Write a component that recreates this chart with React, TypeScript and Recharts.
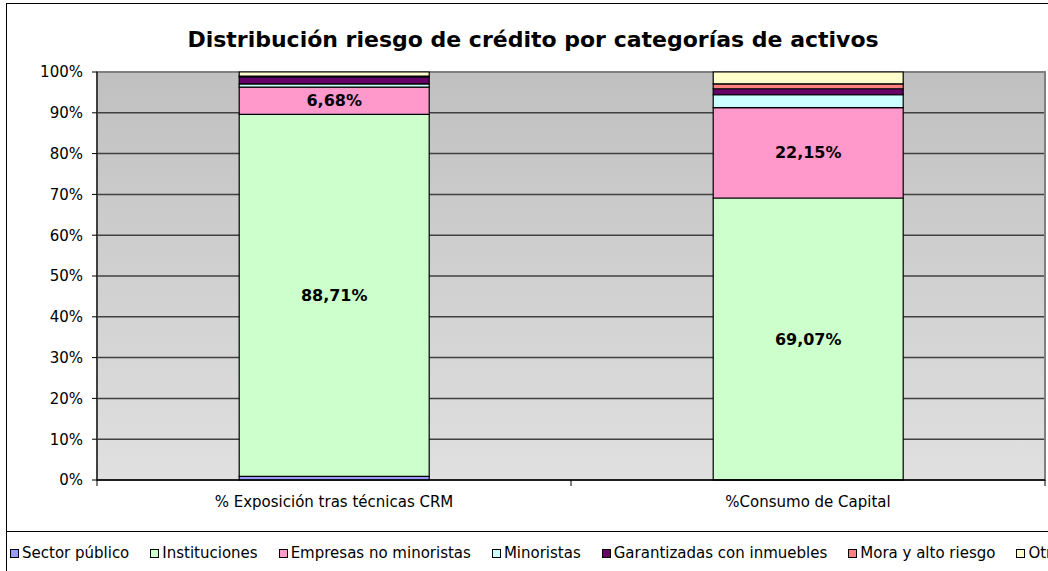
import {
  BarChart,
  Bar,
  XAxis,
  YAxis,
  CartesianGrid,
  LabelList,
  ReferenceArea
} from 'recharts';

const categories = ['% Exposición tras técnicas CRM', '%Consumo de Capital'];
const sectorPublico = [0.9, 0.05];
const instituciones = [88.71, 69.07];
const empresas = [6.68, 22.15];
const minoristas = [0.8, 3.16];
const garantizadas = [1.7, 1.47];
const mora = [0.2, 1.2];
const otras = [1.01, 2.9];
const yTicks = [0, 10, 20, 30, 40, 50, 60, 70, 80, 90, 100];

const series = [
  { key: 'sectorPublico', name: 'Sector público', values: sectorPublico, color: '#9999ff', label: false },
  { key: 'instituciones', name: 'Instituciones', values: instituciones, color: '#ccffcc', label: true },
  { key: 'empresas', name: 'Empresas no minoristas', values: empresas, color: '#ff99cc', label: true },
  { key: 'minoristas', name: 'Minoristas', values: minoristas, color: '#ccffff', label: false },
  { key: 'garantizadas', name: 'Garantizadas con inmuebles', values: garantizadas, color: '#660066', label: false },
  { key: 'mora', name: 'Mora y alto riesgo', values: mora, color: '#ff8080', label: false },
  { key: 'otras', name: 'Otras', values: otras, color: '#ffffcc', label: false }
];

const data = categories.map((name, i) => {
  const row: Record<string, string | number> = { name };
  series.forEach((s) => {
    row[s.key] = s.values[i];
  });
  return row;
});

const font = '"DejaVu Sans", Verdana, sans-serif';
const fmtPct = (v: unknown) => `${Number(v).toFixed(2).replace('.', ',')}%`;

// category label plus the Excel-style tick marks on the band edges
const CategoryTick = (props: any) => {
  const { x, y, payload, index, visibleTicksCount } = props;
  const half = payload?.offset ?? 0;
  const axisY = y - 16;
  const last = index === visibleTicksCount - 1;
  return (
    <g>
      <line x1={x - half} x2={x - half} y1={axisY} y2={axisY + 6} stroke="#000" />
      {last && <line x1={x + half} x2={x + half} y1={axisY} y2={axisY + 6} stroke="#000" />}
      <text x={x} y={y} dy="0.71em" textAnchor="middle" fontSize={15} fill="#000" fontFamily={font}>
        {payload.value}
      </text>
    </g>
  );
};

export default function App() {
  return (
    <div style={{ position: 'absolute', left: 0, top: 0, width: 1048, height: 571, overflow: 'hidden', background: '#fff', fontFamily: font }}>
      <div style={{ position: 'absolute', left: 6, top: 3, width: 1200, height: 529, border: '1px solid #000', boxSizing: 'border-box' }} />
      <div style={{ position: 'absolute', left: 0, top: 27, width: 1066, textAlign: 'center', fontSize: 22, fontWeight: 'bold', color: '#000' }}>
        Distribución riesgo de crédito por categorías de activos
      </div>

      <div style={{ position: 'absolute', left: 0, top: 0 }}>
        <BarChart width={1100} height={531} data={data} margin={{ top: 72, right: 55, left: 37, bottom: 21 }} barCategoryGap="30%">
          <defs>
            <linearGradient id="plotBg" x1="0" y1="0" x2="0" y2="1">
              <stop offset="0%" stopColor="#c0c0c0" />
              <stop offset="100%" stopColor="#e0e0e0" />
            </linearGradient>
          </defs>
          <CartesianGrid vertical={false} stroke="#404040" strokeWidth={1.5} fill="url(#plotBg)" fillOpacity={1} />
          <ReferenceArea y1={0} y2={100} fill="none" stroke="#808080" strokeWidth={2} ifOverflow="visible" />
          <XAxis
            dataKey="name"
            axisLine={{ stroke: '#000', strokeWidth: 1.5 }}
            tickLine={false}
            tickSize={0}
            tickMargin={16}
            height={30}
            interval={0}
            tick={<CategoryTick />}
          />
          <YAxis
            domain={[0, 100]}
            ticks={yTicks}
            width={60}
            tickSize={5}
            tickMargin={9}
            stroke="#000"
            tickFormatter={(v) => `${v}%`}
            tick={{ fontSize: 15, fill: '#000', fontFamily: font }}
          />
          {series.map((s) => (
            <Bar key={s.key} dataKey={s.key} name={s.name} stackId="a" fill={s.color} stroke="#000" strokeWidth={1.2} isAnimationActive={false}>
              {s.label && (
                <LabelList dataKey={s.key} position="center" formatter={fmtPct} style={{ fontSize: 16, fontWeight: 'bold', fill: '#000', fontFamily: font }} />
              )}
            </Bar>
          ))}
        </BarChart>
      </div>

      <div style={{ position: 'absolute', left: 6, top: 531, width: 1200, height: 60, borderTop: '1px solid #000', borderLeft: '1px solid #000' }}>
        <div style={{ display: 'flex', alignItems: 'center', marginTop: 12, marginLeft: 3, fontSize: 15, color: '#000', whiteSpace: 'nowrap' }}>
          {series.map((s) => (
            <div key={s.key} style={{ display: 'flex', alignItems: 'center', marginRight: 21 }}>
              <span style={{ display: 'inline-block', width: 7, height: 7, background: s.color, border: '1px solid #000', marginRight: 3 }} />
              <span>{s.name}</span>
            </div>
          ))}
        </div>
      </div>
    </div>
  );
}
